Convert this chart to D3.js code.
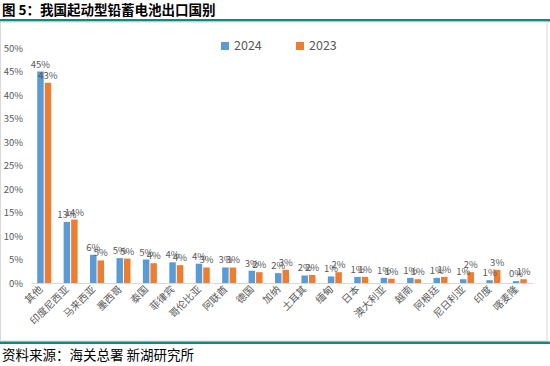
<!DOCTYPE html>
<html><head><meta charset="utf-8">
<script src="https://cdn.jsdelivr.net/npm/d3@7"></script>
<style>
html,body{margin:0;padding:0;background:#fff;}
svg{display:block;}
</style></head>
<body>
<svg id="c" width="550" height="366"></svg>
<script>
const categories = ["其他","印度尼西亚","马来西亚","墨西哥","泰国","菲律宾","哥伦比亚","阿联酋","德国","加纳","土耳其","缅甸","日本","澳大利亚","越南","阿根廷","尼日利亚","印度","喀麦隆"];
const series = ["2024","2023"];
const values2024 = [45.0,13.0,6.0,5.3,5.0,4.4,4.1,3.3,2.6,2.1,1.6,1.4,1.3,1.1,1.1,1.1,0.8,0.6,0.4];
const values2023 = [42.6,13.5,4.8,5.2,4.2,3.8,3.3,3.3,2.3,2.8,1.7,2.3,1.3,0.9,0.8,1.3,2.3,2.8,0.8];
const yTicks = [0,5,10,15,20,25,30,35,40,45,50];
const colors = {"2024":"#5b9bd5","2023":"#ed7d31"};
const titleText = "图 5：我国起动型铅蓄电池出口国别";
const sourceText = "资料来源：海关总署 新湖研究所";

const svg = d3.select("#c");
const font = "'Noto Sans CJK SC','Noto Sans',sans-serif";
const grey = "#595959";

// title and frame
svg.append("text").attr("x",2).attr("y",15).attr("font-family",font).attr("font-weight","bold")
  .attr("font-size",13.5).attr("fill","#000").text(titleText);
svg.append("rect").attr("x",0).attr("y",19).attr("width",550).attr("height",2.5).attr("fill","#17877c");
svg.append("rect").attr("x",0.5).attr("y",22).attr("width",546.5).attr("height",319).attr("fill","none").attr("stroke","#d9d9d9");
svg.append("rect").attr("x",0).attr("y",341.5).attr("width",550).attr("height",2.5).attr("fill","#17877c");
svg.append("text").attr("x",2).attr("y",360).attr("font-family",font)
  .attr("font-size",13.5).attr("fill","#000").text(sourceText);

// scales
const y = d3.scaleLinear().domain([0,50]).range([283,48]);
const x = d3.scaleBand().domain(categories).range([31,533]);
const x1 = d3.scaleBand().domain(series).range([0,14]).paddingInner(0.14);
const off = (x.bandwidth()-14)/2;

// y axis
const yAxis = d3.axisLeft(y).tickValues(yTicks).tickFormat(d=>d+"%").tickSize(0).tickPadding(0);
const gy = svg.append("g").attr("transform","translate(23,0)").call(yAxis);
gy.select(".domain").remove();
gy.selectAll("text").attr("font-family",font).attr("font-size",9.5).attr("fill",grey).attr("dy","0.35em");

// x axis
const xAxis = d3.axisBottom(x).tickSize(0).tickPadding(0);
const gx = svg.append("g").attr("transform","translate(0,283)").call(xAxis);
gx.select(".domain").attr("stroke","#d9d9d9");
gx.selectAll("text").attr("font-family",font).attr("font-size",10).attr("fill",grey)
  .attr("text-anchor","end").attr("dy",null).attr("y",0)
  .attr("transform","translate(-1,7) rotate(-45)");

// bars
const data = categories.map((c,i)=>({c, v:{"2024":values2024[i],"2023":values2023[i]}}));
const groups = svg.append("g").selectAll("g").data(data).join("g")
  .attr("transform",d=>`translate(${x(d.c)+off},0)`);
series.forEach(s=>{
  groups.append("rect")
    .attr("x",x1(s)).attr("width",x1.bandwidth())
    .attr("y",d=>y(d.v[s])).attr("height",d=>y(0)-y(d.v[s]))
    .attr("fill",colors[s]);
});
series.forEach(s=>{
  groups.append("text")
    .attr("x",x1(s)+x1.bandwidth()/2).attr("y",d=>y(d.v[s])-4)
    .attr("text-anchor","middle").attr("font-family",font).attr("font-size",9.5).attr("fill",grey)
    .text(d=>Math.round(d.v[s])+"%");
});

// legend
const legX = [221,296];
series.forEach((s,i)=>{
  svg.append("rect").attr("x",legX[i]).attr("y",42).attr("width",8).attr("height",8).attr("fill",colors[s]);
  svg.append("text").attr("x",legX[i]+13).attr("y",50).attr("font-family",font).attr("font-size",12.5)
    .attr("fill",grey).text(s);
});
</script>
</body></html>
